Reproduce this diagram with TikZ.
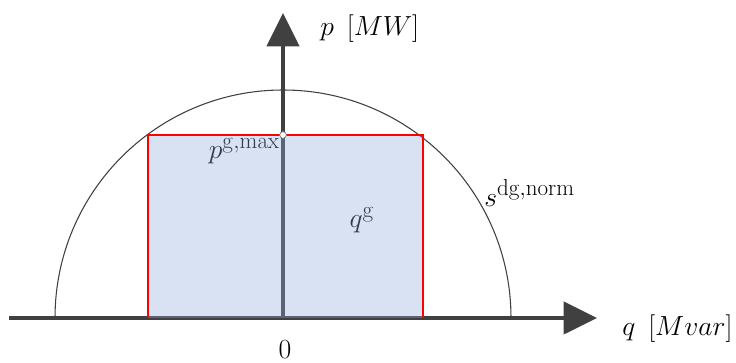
\documentclass[tikz,border=0pt]{standalone}
\usepackage{amsmath}
\usepackage{tikz}
\usetikzlibrary{arrows.meta}
\DeclareMathSizes{21}{21}{16}{12}
\definecolor{axisgray}{HTML}{404040}
\definecolor{capblue}{RGB}{145,171,219}
\begin{document}
\begin{tikzpicture}[x=.75pt,y=.75pt,
  axis/.style={draw=axisgray,line width=3pt,-{Triangle[length=25pt,width=24pt]}},
  capline/.style={draw=red,line width=1.7pt},
  lbl/.style={font=\fontsize{21}{24}\selectfont,inner sep=0pt}]
\useasboundingbox (0,0) rectangle (736,363);
% ---- geometry: origin (283,45), circle radius 228, box 148..423 x 45..228
\def\xo{283} \def\yo{45} \def\rad{228}
\def\xl{148} \def\xr{423} \def\yt{228}
% ---- circle of rated power
\draw[axisgray,line width=.8pt] (\xo-\rad,\yo) arc[start angle=180,end angle=0,radius=\rad];
% ---- axes
\coordinate (qa) at (9,\yo);  \coordinate (qb) at (597,\yo);
\coordinate (pa) at (\xo,\yo); \coordinate (pb) at (\xo,350);
\draw[axis] (qa) -- (qb);
\draw[axis] (pa) -- (pb);
\node[lbl,anchor=west] (plab) at (320,334) {$p\ \,[MW]$};
\node[lbl,anchor=west] (qlab) at (622,34) {$q\ \,[Mvar]$};
\node[lbl] (zero) at (285,13) {$0$};
% ---- labels lying under the box
\node[lbl,anchor=east] (pmax) at (280,212) {$p^{\mathrm{g,max}}$};
\node[lbl] (qg) at (362,143) {$q^{\mathrm{g}}$};
% ---- capability box
\fill[capblue,fill opacity=.34] (\xl,\yo) rectangle (\xr,\yt);
\draw[capline] (\xl,\yo) -- (\xl,\yt) -- (\xr,\yt) -- (\xr,\yo);
\node[circle,draw=axisgray!70,fill=white,line width=.5pt,inner sep=0pt,minimum size=5pt] (top) at (\xo,\yt) {};
% ---- circle label
\node[lbl,anchor=west] (slab) at (484,170) {$s^{\mathrm{dg,norm}}$};
\end{tikzpicture}
\end{document}
